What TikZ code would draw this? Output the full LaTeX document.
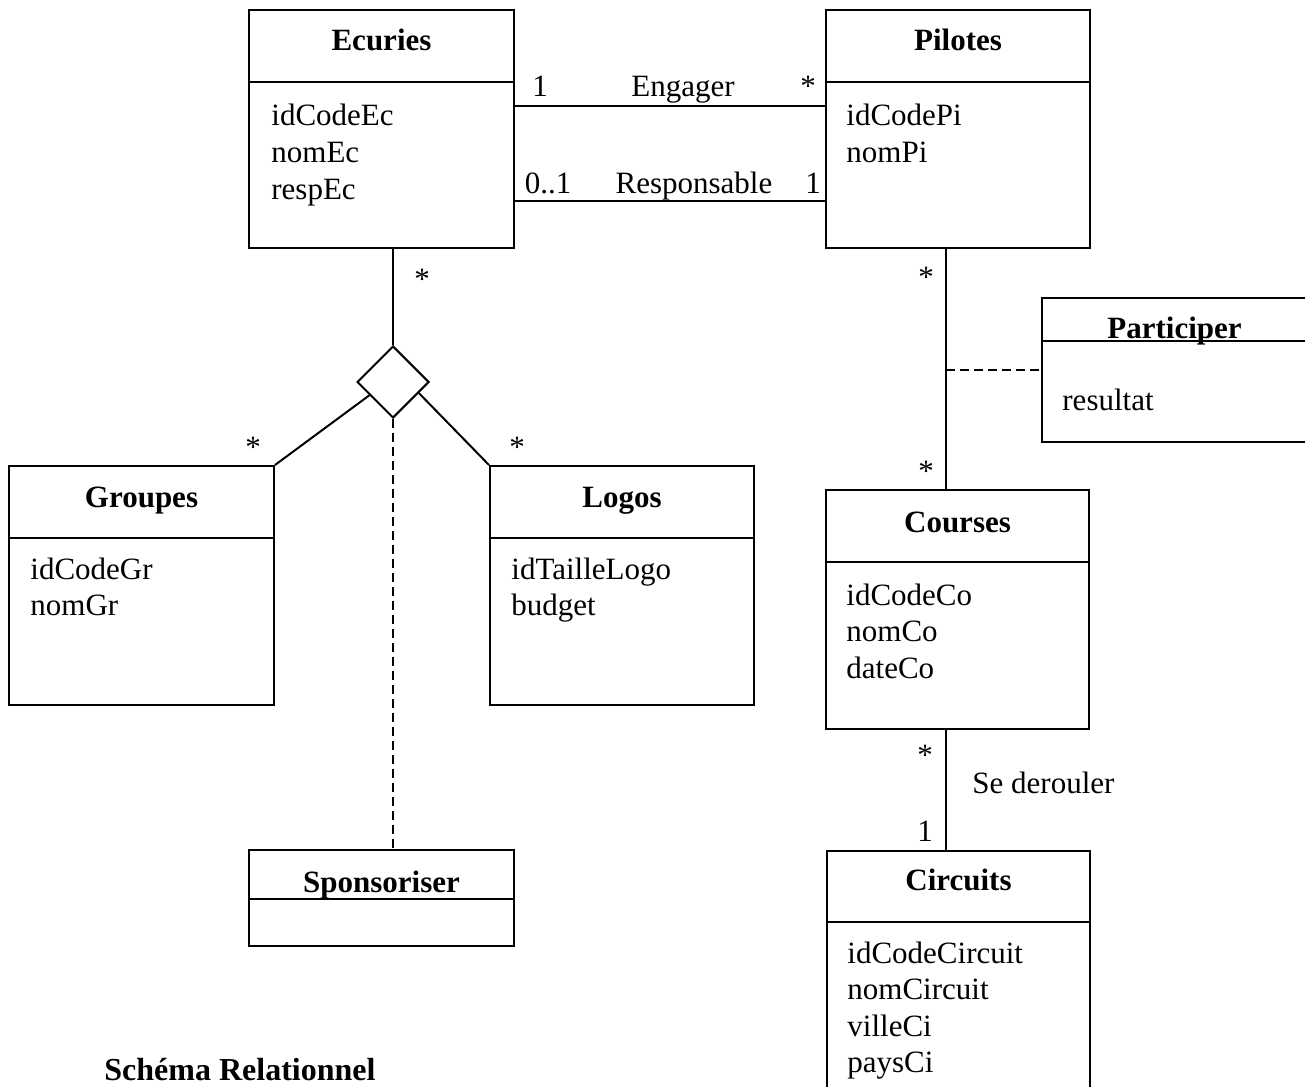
\documentclass[tikz,border=0pt]{standalone}
\usepackage{fontspec}
\setmainfont{Liberation Serif}
\usetikzlibrary{
	positioning,
	shapes.geometric,
	fit,
	calc
}
\tikzset{
  % box
	cstbox/.style   ={draw=black, line width=1pt, inner sep=0pt},
	cstdia/.style   ={diamond, draw=black, line width=1pt, inner sep=0pt, aspect=1, minimum width=36pt, minimum height=36pt},
  % text
	csttitle/.style ={anchor=base, inner sep=0pt, font=\fontsize{15.5}{18}\selectfont\bfseries},
	cstattr/.style  ={anchor=base west, inner sep=0pt, font=\fontsize{15.5}{18}\selectfont},
	cstmult/.style  ={anchor=base, inner sep=0pt, font=\fontsize{15.5}{18}\selectfont},
  % line
	cstline/.style  ={line width=1pt},
	cstdash/.style  ={line width=1pt, dash pattern=on 4.5pt off 2.5pt}
}
\begin{document}
\begin{tikzpicture}[x=0.5pt, y=-0.5pt]
	\useasboundingbox (0,0) rectangle (1305,1086);
	% classes
	\node[cstbox, fit={(249,10) (514,248)}] (ecuries) {};
	\node[cstbox, fit={(826,10) (1090,248)}] (pilotes) {};
	\node[cstbox, fit={(9,466) (274,705)}] (groupes) {};
	\node[cstbox, fit={(490,466) (754,705)}] (logos) {};
	\node[cstbox, fit={(826,490) (1089,729)}] (courses) {};
	\node[cstbox, fit={(827,851) (1090,1095)}] (circuits) {};
	\node[cstbox, fit={(249,850) (514,946)}] (sponsoriser) {};
	\node[cstbox, fit={(1042,298) (1307,442)}] (participer) {};
	\foreach \n/\y in {ecuries/82, pilotes/82, groupes/538, logos/538, courses/562, circuits/922, sponsoriser/899, participer/341}
		\draw[cstline] (\n.west |- 0,\y) -- (\n.east |- 0,\y);
	% titles
	\node[csttitle] (ecuries-t) at (ecuries.north |- 0,51) {Ecuries};
	\node[csttitle] (pilotes-t) at (pilotes.north |- 0,51) {Pilotes};
	\node[csttitle] (groupes-t) at (groupes.north |- 0,507) {Groupes};
	\node[csttitle] (logos-t) at (logos.north |- 0,507) {Logos};
	\node[csttitle] (courses-t) at (courses.north |- 0,532) {Courses};
	\node[csttitle] (circuits-t) at (circuits.north |- 0,890) {Circuits};
	\node[csttitle] (sponsoriser-t) at (sponsoriser.north |- 0,892) {Sponsoriser};
	\node[csttitle] (participer-t) at (participer.north |- 0,338) {Participer};
	% attributes
	\foreach \t [count=\i from 0] in {idCodeEc,nomEc,respEc}
		\node[cstattr] (ecuries-\i) at (271,126+36.5*\i) {\t};
	\foreach \t [count=\i from 0] in {idCodePi,nomPi}
		\node[cstattr] (pilotes-\i) at (846,126+36.5*\i) {\t};
	\foreach \t [count=\i from 0] in {idCodeGr,nomGr}
		\node[cstattr] (groupes-\i) at (30,579+36.5*\i) {\t};
	\foreach \t [count=\i from 0] in {idTailleLogo,budget}
		\node[cstattr] (logos-\i) at (511,579+36.5*\i) {\t};
	\foreach \t [count=\i from 0] in {idCodeCo,nomCo,dateCo}
		\node[cstattr] (courses-\i) at (846,605+36.5*\i) {\t};
	\foreach \t [count=\i from 0] in {idCodeCircuit,nomCircuit,villeCi,paysCi}
		\node[cstattr] (circuits-\i) at (847,963+36.5*\i) {\t};
	\node[cstattr] (participer-0) at (1062,410) {resultat};
	% associations
	\draw[cstline] (ecuries.east |- 0,106) -- (pilotes.west |- 0,106);
	\draw[cstline] (ecuries.east |- 0,201) -- (pilotes.west |- 0,201);
	\node[cstmult] (eng1) at (540,97) {1};
	\node[cstmult] (eng) at (683,97) {Engager};
	\node[cstmult] (eng2) at (808,97) {*};
	\node[cstmult] (resp1) at (548,193) {0..1};
	\node[cstmult] (resp) at (694,193) {Responsable};
	\node[cstmult] (resp2) at (813,193) {1};
	% sponsoriser
	\node[cstdia] (dia) at (393,382) {};
	\draw[cstline] (ecuries.south -| dia.north) -- (dia.north);
	\draw[cstline] ($(dia.west)!0.36!(dia.south)$) -- (groupes.north east);
	\draw[cstline] ($(dia.east)!0.3!(dia.south)$) -- (logos.north west);
	\draw[cstdash] (dia.south) -- (sponsoriser.north -| dia.south);
	\node[cstmult] (sp1) at (422,289) {*};
	\node[cstmult] (sp2) at (253,457) {*};
	\node[cstmult] (sp3) at (517,457) {*};
	% participer
	\coordinate (assoc) at (946,370);
	\draw[cstline] (pilotes.south -| assoc) -- (courses.north -| assoc);
	\draw[cstdash] (assoc) -- (participer.west |- assoc);
	\node[cstmult] (pa1) at (926,287) {*};
	\node[cstmult] (pa2) at (926,481) {*};
	% se derouler
	\draw[cstline] (courses.south -| assoc) -- (circuits.north -| assoc);
	\node[cstmult] (sd1) at (925,765) {*};
	\node[cstmult] (sd2) at (925,841) {1};
	\node[cstattr] (sd) at (972,793) {Se derouler};
	% titre
	\node[csttitle, anchor=base west, font=\fontsize{16}{18}\selectfont\bfseries] (schema) at (104,1080) {Schéma Relationnel};
\end{tikzpicture}
\end{document}
